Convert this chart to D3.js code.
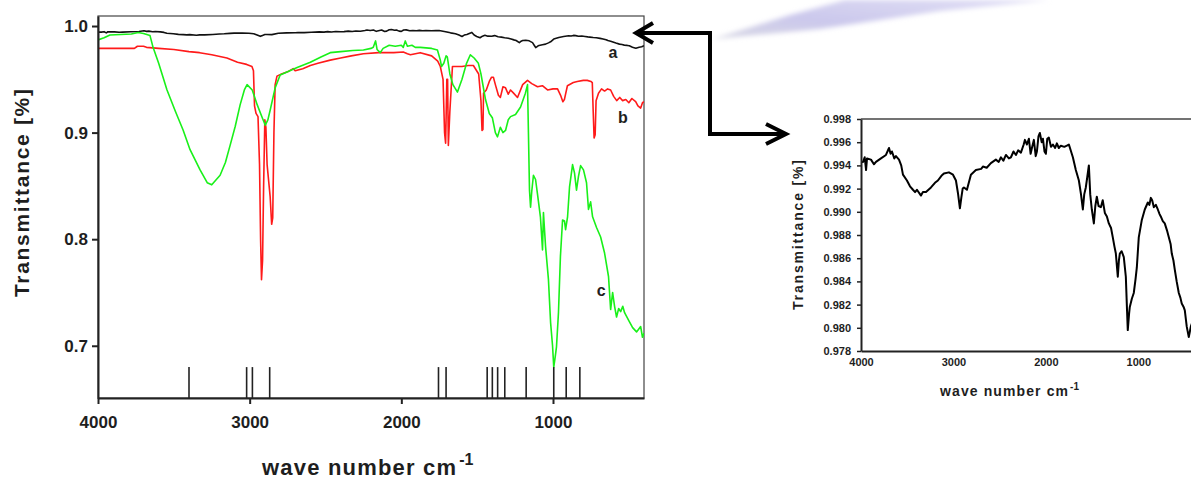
<!DOCTYPE html>
<html>
<head>
<meta charset="utf-8">
<script src="https://cdn.jsdelivr.net/npm/d3@7"></script>
<style>
  body { margin: 0; background: #fff; }
  svg text { font-family: Arial, "Liberation Sans", sans-serif; font-weight: bold; fill: #1e1e1e; }
</style>
</head>
<body>
<div></div>
<script>
const w = 1191;
const h = 481;

// sample a (reference), b and c spectra: [wave number, transmittance]
const curveA = [
  [3995, 0.9943], [3978, 0.9943], [3960, 0.9947], [3945, 0.9936], [3935, 0.9946], [3892, 0.9945],
  [3860, 0.9941], [3838, 0.9943], [3784, 0.9946], [3730, 0.9949], [3697, 0.9955], [3680, 0.995],
  [3665, 0.9952], [3640, 0.9946], [3622, 0.9948], [3589, 0.9945], [3565, 0.994], [3546, 0.9932],
  [3503, 0.9927], [3470, 0.9922], [3438, 0.9919], [3415, 0.9917], [3395, 0.9919], [3351, 0.9914],
  [3330, 0.9917], [3297, 0.9917], [3243, 0.9921], [3200, 0.9925], [3168, 0.9927], [3130, 0.9931],
  [3103, 0.9933], [3049, 0.9934], [3005, 0.9932], [2973, 0.9927], [2951, 0.9916], [2930, 0.9903],
  [2915, 0.9912], [2900, 0.992], [2886, 0.9921], [2854, 0.9919], [2811, 0.9932], [2757, 0.9936],
  [2700, 0.9937], [2681, 0.9939], [2640, 0.9938], [2595, 0.9942], [2541, 0.9945], [2510, 0.9943],
  [2486, 0.9947], [2460, 0.9944], [2432, 0.9949], [2400, 0.9946], [2378, 0.9947], [2350, 0.9952],
  [2324, 0.9949], [2300, 0.9953], [2270, 0.9951], [2240, 0.9958], [2227, 0.9962], [2205, 0.9958],
  [2184, 0.9963], [2165, 0.995], [2151, 0.9955], [2130, 0.9962], [2110, 0.9948], [2097, 0.9952],
  [2080, 0.9965], [2065, 0.9968], [2045, 0.996], [2032, 0.9963], [2015, 0.9952], [2000, 0.995],
  [1985, 0.9963], [1968, 0.9964], [1945, 0.9956], [1924, 0.9958], [1900, 0.9955], [1881, 0.9959],
  [1860, 0.9955], [1838, 0.9957], [1800, 0.9956], [1773, 0.9957], [1751, 0.9958], [1708, 0.9947],
  [1676, 0.9936], [1643, 0.9927], [1620, 0.9915], [1600, 0.9902], [1585, 0.9915], [1568, 0.9921],
  [1552, 0.993], [1535, 0.994], [1520, 0.9915], [1503, 0.9902], [1481, 0.989], [1465, 0.9905],
  [1449, 0.9913], [1430, 0.9905], [1405, 0.9904], [1385, 0.991], [1362, 0.9899], [1340, 0.9896],
  [1319, 0.989], [1295, 0.9886], [1276, 0.9878], [1258, 0.987], [1243, 0.9864], [1222, 0.9844],
  [1210, 0.9858], [1200, 0.9864], [1180, 0.9866], [1157, 0.9861], [1135, 0.9844], [1122, 0.9815],
  [1114, 0.9798], [1100, 0.9812], [1092, 0.9818], [1070, 0.9825], [1049, 0.983], [1030, 0.9842],
  [1016, 0.9852], [995, 0.9878], [962, 0.9893], [930, 0.9902], [897, 0.9908], [880, 0.9906],
  [865, 0.9912], [850, 0.991], [832, 0.9904], [810, 0.9906], [789, 0.9902], [770, 0.9898],
  [757, 0.9896], [735, 0.9892], [714, 0.989], [690, 0.9884], [670, 0.9878], [650, 0.9872],
  [638, 0.9864], [620, 0.9858], [605, 0.985], [585, 0.984], [562, 0.983], [545, 0.9826],
  [530, 0.9821], [510, 0.9818], [497, 0.9815], [476, 0.9801], [454, 0.9792], [432, 0.9801],
  [415, 0.9805], [400, 0.9815]
];
const curveB = [
  [4000, 0.979], [3760, 0.979], [3740, 0.981], [3700, 0.981], [3680, 0.98], [3600, 0.979],
  [3500, 0.978], [3400, 0.976], [3330, 0.975], [3250, 0.973], [3150, 0.97], [3080, 0.966],
  [3020, 0.964], [2985, 0.962], [2975, 0.958], [2968, 0.925], [2958, 0.918], [2945, 0.915],
  [2935, 0.87], [2928, 0.8], [2922, 0.762], [2915, 0.78], [2908, 0.85], [2900, 0.912],
  [2893, 0.905], [2885, 0.87], [2875, 0.855], [2865, 0.84], [2855, 0.814], [2848, 0.82],
  [2840, 0.9], [2832, 0.945], [2820, 0.953], [2790, 0.955], [2750, 0.957], [2713, 0.96],
  [2700, 0.958], [2650, 0.96], [2600, 0.963], [2550, 0.965], [2469, 0.968], [2400, 0.97],
  [2330, 0.972], [2250, 0.974], [2150, 0.975], [2050, 0.975], [1987, 0.9756], [1960, 0.974],
  [1940, 0.973], [1875, 0.975], [1800, 0.972], [1760, 0.967], [1743, 0.962], [1725, 0.95],
  [1715, 0.9], [1708, 0.89], [1700, 0.95], [1695, 0.95], [1690, 0.888], [1680, 0.92],
  [1663, 0.962], [1600, 0.962], [1560, 0.963], [1525, 0.963], [1490, 0.955], [1475, 0.93],
  [1468, 0.902], [1462, 0.903], [1458, 0.937], [1440, 0.94], [1420, 0.948], [1405, 0.952],
  [1393, 0.952], [1380, 0.945], [1360, 0.935], [1347, 0.933], [1330, 0.943], [1313, 0.942],
  [1295, 0.936], [1280, 0.94], [1260, 0.937], [1234, 0.933], [1200, 0.945], [1168, 0.949],
  [1140, 0.946], [1102, 0.943], [1070, 0.944], [1036, 0.94], [1000, 0.941], [970, 0.941],
  [950, 0.935], [935, 0.929], [925, 0.931], [905, 0.944], [866, 0.947], [840, 0.948],
  [800, 0.949], [774, 0.949], [750, 0.948], [741, 0.947], [735, 0.92], [729, 0.895],
  [722, 0.898], [716, 0.93], [700, 0.937], [680, 0.941], [660, 0.939], [640, 0.941],
  [620, 0.94], [600, 0.934], [580, 0.93], [560, 0.933], [541, 0.93], [520, 0.931],
  [500, 0.928], [480, 0.932], [455, 0.929], [440, 0.925], [422, 0.923], [410, 0.928], [400, 0.929]
];
const curveC = [
  [4000, 0.987], [3960, 0.989], [3921, 0.9916], [3850, 0.992], [3780, 0.9925], [3735, 0.994],
  [3700, 0.993], [3657, 0.991], [3637, 0.98], [3600, 0.965], [3545, 0.94], [3490, 0.92],
  [3439, 0.9025], [3393, 0.884], [3327, 0.865], [3280, 0.853], [3250, 0.851], [3195, 0.86],
  [3160, 0.872], [3129, 0.888], [3095, 0.906], [3063, 0.926], [3035, 0.94], [3017, 0.945],
  [2983, 0.94], [2950, 0.926], [2917, 0.914], [2897, 0.907], [2880, 0.912], [2865, 0.921],
  [2832, 0.942], [2799, 0.954], [2750, 0.957], [2687, 0.961], [2600, 0.966], [2530, 0.971],
  [2469, 0.975], [2400, 0.976], [2320, 0.977], [2250, 0.9775], [2200, 0.979], [2185, 0.98],
  [2170, 0.986], [2160, 0.978], [2139, 0.975], [2120, 0.979], [2080, 0.982], [2040, 0.981],
  [2000, 0.982], [1987, 0.98], [1974, 0.986], [1960, 0.981], [1930, 0.982], [1908, 0.98],
  [1875, 0.98], [1800, 0.979], [1762, 0.9775], [1743, 0.968], [1735, 0.962], [1720, 0.965],
  [1705, 0.972], [1697, 0.971], [1680, 0.955], [1660, 0.945], [1630, 0.938], [1600, 0.95],
  [1570, 0.965], [1545, 0.973], [1520, 0.97], [1492, 0.965], [1475, 0.955], [1465, 0.947],
  [1445, 0.931], [1420, 0.918], [1400, 0.914], [1380, 0.9], [1366, 0.896], [1347, 0.905],
  [1330, 0.9], [1313, 0.902], [1295, 0.912], [1280, 0.915], [1247, 0.917], [1214, 0.924],
  [1182, 0.937], [1168, 0.945], [1162, 0.9], [1155, 0.846], [1148, 0.83], [1140, 0.845],
  [1129, 0.86], [1115, 0.856], [1102, 0.842], [1083, 0.821], [1069, 0.79], [1063, 0.825],
  [1049, 0.793], [1030, 0.762], [1016, 0.722], [1003, 0.7], [995, 0.68], [985, 0.69],
  [977, 0.699], [964, 0.731], [951, 0.784], [937, 0.818], [924, 0.817], [917, 0.809],
  [904, 0.821], [891, 0.849], [871, 0.87], [858, 0.862], [845, 0.846], [832, 0.859],
  [818, 0.869], [799, 0.865], [779, 0.853], [766, 0.828], [752, 0.835], [739, 0.821],
  [713, 0.811], [686, 0.802], [660, 0.787], [634, 0.765], [620, 0.734], [607, 0.75],
  [594, 0.737], [581, 0.727], [567, 0.735], [554, 0.732], [540, 0.737], [528, 0.731],
  [502, 0.724], [475, 0.717], [449, 0.713], [422, 0.718], [410, 0.708], [400, 0.712]
];
// band positions marked along the bottom of the main plot
const bands = [3400, 3020, 2982, 2868, 1755, 1705, 1434, 1400, 1365, 1318, 1177, 995, 913, 823];
const bandTop = 0.68;

const xTicks = [4000, 3000, 2000, 1000];
const yTicks = [0.7, 0.8, 0.9, 1.0];
const insetYTicks = [0.978, 0.98, 0.982, 0.984, 0.986, 0.988, 0.99, 0.992, 0.994, 0.996, 0.998];
const curveLabels = [
  { t: "a", wn: 604, v: 0.97 },
  { t: "b", wn: 539, v: 0.909 },
  { t: "c", wn: 683, v: 0.747 }
];

const svg = d3.select("div").append("svg").attr("width", w).attr("height", h);

// lavender wedge in the top corner
const defs = svg.append("defs");
const grad = defs.append("linearGradient").attr("id", "wedge")
  .attr("x1", "0%").attr("y1", "100%").attr("x2", "100%").attr("y2", "0%");
grad.append("stop").attr("offset", "0%").attr("stop-color", "#d8d8e4");
grad.append("stop").attr("offset", "40%").attr("stop-color", "#cbc8ec");
grad.append("stop").attr("offset", "100%").attr("stop-color", "#e2e0f6");
defs.append("filter").attr("id", "soft").append("feGaussianBlur").attr("stdDeviation", 2.5);
svg.append("path")
  .attr("d", "M713,39 L790,15 L845,0 L1050,0 L940,11 L820,29 Z")
  .attr("fill", "url(#wedge)")
  .attr("filter", "url(#soft)");

// ---------- main chart ----------
const x = d3.scaleLinear().domain([4000, 400]).range([98, 644]);
const y = d3.scaleLinear().domain([0.651, 1.0094]).range([398, 16]);

defs.append("clipPath").attr("id", "mainClip").append("rect")
  .attr("x", 98).attr("y", 16).attr("width", 546).attr("height", 382);

svg.append("rect")
  .attr("x", 98).attr("y", 16).attr("width", 546).attr("height", 382)
  .attr("fill", "none").attr("stroke", "#444").attr("stroke-width", 1.2);

const line = d3.line().x((d) => x(d[0])).y((d) => y(d[1]));
const plot = svg.append("g").attr("clip-path", "url(#mainClip)");
[
  [curveA, "#111"],
  [curveB, "#ff1a1a"],
  [curveC, "#19f019"],
].forEach(([data, color]) => {
  plot.append("path").datum(data).attr("d", line)
    .attr("fill", "none").attr("stroke", color).attr("stroke-width", 1.6)
    .attr("stroke-linejoin", "round");
});

svg.selectAll("line.band").data(bands).enter().append("line")
  .attr("class", "band")
  .attr("x1", (d) => x(d)).attr("x2", (d) => x(d))
  .attr("y1", y(0.651)).attr("y2", y(bandTop))
  .attr("stroke", "#222").attr("stroke-width", 1.6);

const xAxis = d3.axisBottom(x).tickValues(xTicks).tickFormat(d3.format("d")).tickSize(6).tickPadding(12).tickSizeOuter(0);
const gx = svg.append("g").attr("transform", "translate(0," + 398 + ")").call(xAxis);
const yAxis = d3.axisLeft(y).tickValues(yTicks).tickFormat(d3.format(".1f")).tickSize(6).tickPadding(4).tickSizeOuter(0);
const gy = svg.append("g").attr("transform", "translate(98,0)").call(yAxis);
[gx, gy].forEach((g) => {
  g.select(".domain").attr("stroke", "#222").attr("stroke-width", 2);
  g.selectAll(".tick line").attr("stroke", "#222").attr("stroke-width", 2);
  g.selectAll(".tick text").attr("font-size", 17).attr("fill", "#1e1e1e");
});

svg.selectAll("text.lab").data(curveLabels).enter().append("text")
  .attr("class", "lab")
  .attr("x", (d) => x(d.wn)).attr("y", (d) => y(d.v))
  .attr("text-anchor", "middle").attr("font-size", 16)
  .text((d) => d.t);

svg.append("text")
  .attr("transform", "translate(29,193) rotate(-90)")
  .attr("text-anchor", "middle").attr("font-size", 21)
  .attr("textLength", 208).attr("lengthAdjust", "spacing")
  .text("Transmittance [%]");

const xt = svg.append("text").attr("x", 262).attr("y", 475).attr("font-size", 22);
xt.append("tspan").attr("textLength", 194).attr("lengthAdjust", "spacing").text("wave number cm");
xt.append("tspan").attr("font-size", 16).attr("dy", -10).attr("dx", 2).text("-1");

// ---------- arrows ----------
svg.append("path")
  .attr("d", "M636,33 L710,33 L710,134 L785,134")
  .attr("fill", "none").attr("stroke", "#000").attr("stroke-width", 4);
svg.append("path")
  .attr("d", "M653,23 L636,33 L653,43")
  .attr("fill", "none").attr("stroke", "#000").attr("stroke-width", 4).attr("stroke-linejoin", "miter");
svg.append("path")
  .attr("d", "M766,124 L786,134 L766,144")
  .attr("fill", "none").attr("stroke", "#000").attr("stroke-width", 4).attr("stroke-linejoin", "miter");

// ---------- inset (sample a enlarged) ----------
const xi = d3.scaleLinear().domain([4000, 430]).range([861, 1191]);
const yi = d3.scaleLinear().domain([0.978, 0.998]).range([351, 119]);

defs.append("clipPath").attr("id", "insetClip").append("rect")
  .attr("x", 861).attr("y", 119).attr("width", 330).attr("height", 232);

svg.append("line").attr("x1", 861).attr("x2", 1191).attr("y1", 119).attr("y2", 119)
  .attr("stroke", "#444").attr("stroke-width", 1.5);

const lineI = d3.line().x((d) => xi(d[0])).y((d) => yi(d[1]));
svg.append("g").attr("clip-path", "url(#insetClip)")
  .append("path").datum(curveA).attr("d", lineI)
  .attr("fill", "none").attr("stroke", "#000").attr("stroke-width", 2)
  .attr("stroke-linejoin", "round");

const xiAxis = d3.axisBottom(xi).tickValues(xTicks).tickFormat(d3.format("d")).tickSize(0).tickPadding(7).tickSizeOuter(0);
const gxi = svg.append("g").attr("transform", "translate(0,351)").call(xiAxis);
const yiAxis = d3.axisLeft(yi).tickValues(insetYTicks).tickFormat(d3.format(".3f")).tickSize(4).tickPadding(6).tickSizeOuter(0);
const gyi = svg.append("g").attr("transform", "translate(861,0)").call(yiAxis);
[gxi, gyi].forEach((g) => {
  g.select(".domain").attr("stroke", "#222").attr("stroke-width", 2);
  g.selectAll(".tick line").attr("stroke", "#222").attr("stroke-width", 1.5);
  g.selectAll(".tick text").attr("font-size", 11).attr("fill", "#1e1e1e");
});

svg.append("text")
  .attr("transform", "translate(803,235) rotate(-90)")
  .attr("text-anchor", "middle").attr("font-size", 14)
  .attr("textLength", 150).attr("lengthAdjust", "spacing")
  .text("Transmittance [%]");

const xti = svg.append("text").attr("x", 940).attr("y", 396).attr("font-size", 14);
xti.append("tspan").attr("textLength", 128).attr("lengthAdjust", "spacing").text("wave number cm");
xti.append("tspan").attr("font-size", 10).attr("dy", -6).attr("dx", 1).text("-1");
</script>
</body>
</html>
